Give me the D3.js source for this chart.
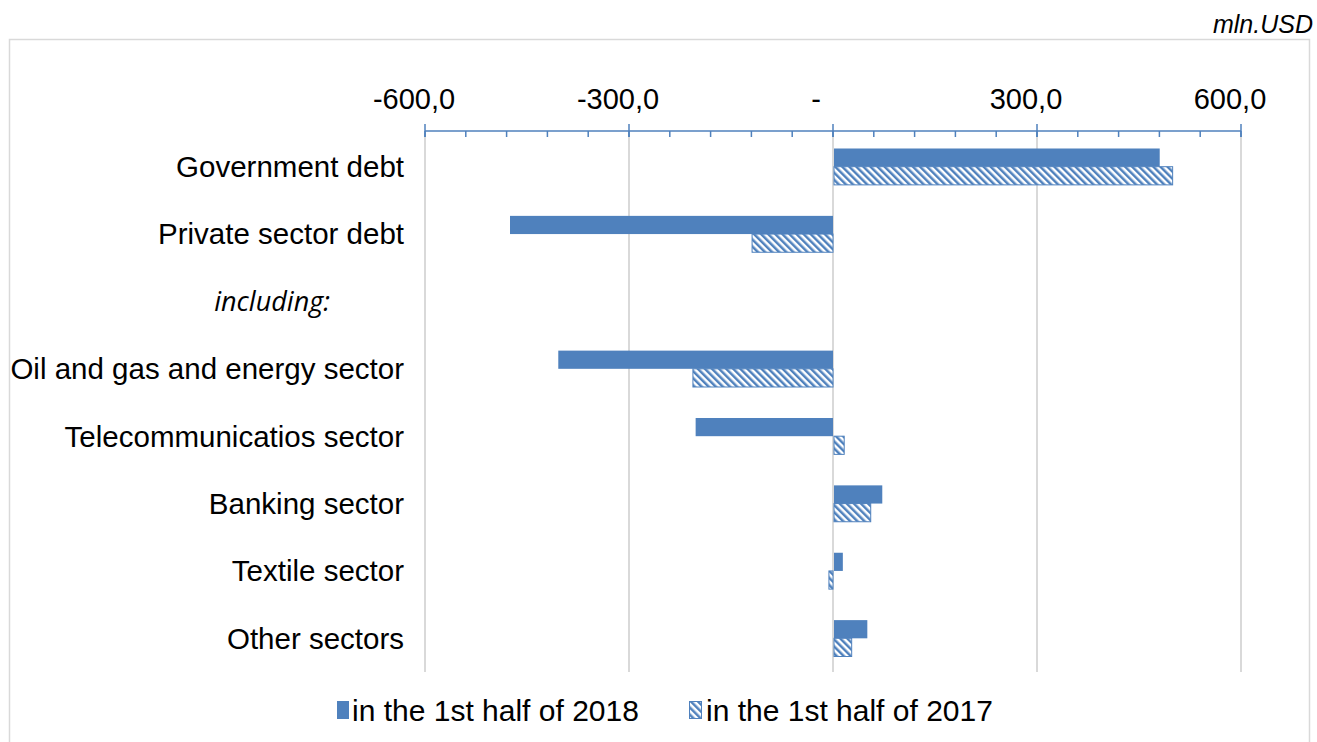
<!DOCTYPE html>
<html>
<head>
<meta charset="utf-8">
<script src="https://cdn.jsdelivr.net/npm/d3@7"></script>
<style>
  body { margin: 0; background: #fff; }
  svg { display: block; font-family: "Liberation Sans", Arial, sans-serif; }
</style>
</head>
<body>
<div id="chart"></div>
<script>
// data (mln. USD)
var categories = ["Government debt", "Private sector debt", "including:", "Oil and gas and energy sector",
  "Telecommunicatios sector", "Banking sector", "Textile sector", "Other sectors"];
var values2018 = [479, -475, null, -404, -202, 71, 13, 49];
var values2017 = [498, -119, null, -206, 15, 54, -6, 26];
var seriesNames = ["in the 1st half of 2018", "in the 1st half of 2017"];
var tickValues = [-600, -300, 0, 300, 600];

var W = 1317, H = 742;
var margin = {top: 133, right: 76, bottom: 70, left: 425};
var width = W - margin.left - margin.right,
    height = H - margin.top - margin.bottom;
var blue = "#4f81bd";

var svg = d3.select("#chart").append("svg")
  .attr("width", W).attr("height", H);

// hatch pattern for 2017
var defs = svg.append("defs");
var pat = defs.append("pattern")
  .attr("id", "hatch")
  .attr("patternUnits", "userSpaceOnUse")
  .attr("width", 5).attr("height", 5)
  .attr("patternTransform", "rotate(-45)");
pat.append("rect").attr("width", 5).attr("height", 5).attr("fill", "#fff");
pat.append("rect").attr("width", 2.5).attr("height", 5).attr("fill", blue);

// outer frame
svg.append("rect")
  .attr("x", 9.5).attr("y", 39.5)
  .attr("width", 1300).attr("height", 720)
  .attr("fill", "none").attr("stroke", "#d9d9d9").attr("stroke-width", 1.5);

svg.append("text")
  .attr("x", 1313).attr("y", 33)
  .attr("text-anchor", "end")
  .style("font-size", "25px").style("font-style", "italic")
  .text("mln.USD");

var g = svg.append("g").attr("transform", "translate(" + margin.left + "," + margin.top + ")");

var x = d3.scaleLinear().domain([-600, 600]).range([0, width]);
var y = d3.scaleBand().domain(categories).range([0, height]).paddingInner(0.46).paddingOuter(0.23);
var ySub = d3.scaleBand().domain([0, 1]).range([0, y.bandwidth()]);

// vertical gridlines
g.selectAll(".grid").data(tickValues).enter().append("line")
  .attr("x1", function(d) { return x(d); })
  .attr("x2", function(d) { return x(d); })
  .attr("y1", 0).attr("y2", height)
  .attr("stroke", "#d9d9d9").attr("stroke-width", 2);

// bars
var rows = categories.map(function(c, i) { return {cat: c, v: [values2018[i], values2017[i]]}; });
rows.forEach(function(r) {
  r.v.forEach(function(v, k) {
    if (v === null) return;
    g.append("rect")
      .attr("x", x(Math.min(0, v)) + (v >= 0 ? 1 : 0))
      .attr("y", y(r.cat) + ySub(k))
      .attr("width", Math.abs(x(v) - x(0)))
      .attr("height", ySub.bandwidth())
      .attr("fill", k === 0 ? blue : "url(#hatch)")
      .attr("stroke", k === 0 ? "none" : blue)
      .attr("stroke-width", 1);
  });
});

// top axis
var axisG = g.append("g").attr("transform", "translate(0,-2)");
axisG.append("line")
  .attr("x1", x(-600)).attr("x2", x(600))
  .attr("stroke", blue).attr("stroke-width", 1.5);
var minor = d3.range(-600, 601, 60);
axisG.selectAll(".minor").data(minor).enter().append("line")
  .attr("x1", function(d) { return x(d); })
  .attr("x2", function(d) { return x(d); })
  .attr("y1", 0).attr("y2", 6)
  .attr("stroke", blue).attr("stroke-width", 1.5);
axisG.selectAll(".major").data(tickValues).enter().append("line")
  .attr("x1", function(d) { return x(d); })
  .attr("x2", function(d) { return x(d); })
  .attr("y1", -7).attr("y2", 6)
  .attr("stroke", blue).attr("stroke-width", 1.5);
var fmt = function(d) { return d === 0 ? "-" : d3.format(".1f")(d).replace(".", ",").replace("\u2212", "-"); };
// excel number format pads the right side, so labels sit a bit left of the ticks
var labelShift = function(d) { return d === 0 ? -17 : -11; };
axisG.selectAll(".tl").data(tickValues).enter().append("text")
  .attr("x", function(d) { return x(d) + labelShift(d); })
  .attr("y", -22)
  .attr("text-anchor", "middle")
  .style("font-size", "29px")
  .text(fmt);

// category labels
g.selectAll(".cat").data(categories).enter().append("text")
  .attr("x", -21)
  .attr("y", function(d) { return y(d) + y.bandwidth() / 2; })
  .attr("dy", "0.35em")
  .attr("text-anchor", "end")
  .style("font-size", d => d === "including:" ? "27px" : "29.5px")
  .style("font-style", d => d === "including:" ? "italic" : null)
  .style("font-family", d => d === "including:" ? "'Open Sans', sans-serif" : null)
  .attr("dx", d => d === "including:" ? "-74" : null)
  .text(function(d) { return d; });

// legend
var leg = svg.append("g").attr("transform", "translate(337,710)");
leg.append("rect").attr("x", 0).attr("y", -9).attr("width", 12).attr("height", 18).attr("fill", blue);
leg.append("text").attr("x", 15).attr("y", 0).attr("dy", "0.35em").style("font-size", "30px").text(seriesNames[0]);
leg.append("rect").attr("x", 352.5).attr("y", -8.5).attr("width", 12).attr("height", 17)
  .attr("fill", "url(#hatch)").attr("stroke", blue);
leg.append("text").attr("x", 369).attr("y", 0).attr("dy", "0.35em").style("font-size", "30px").text(seriesNames[1]);
</script>
</body>
</html>
